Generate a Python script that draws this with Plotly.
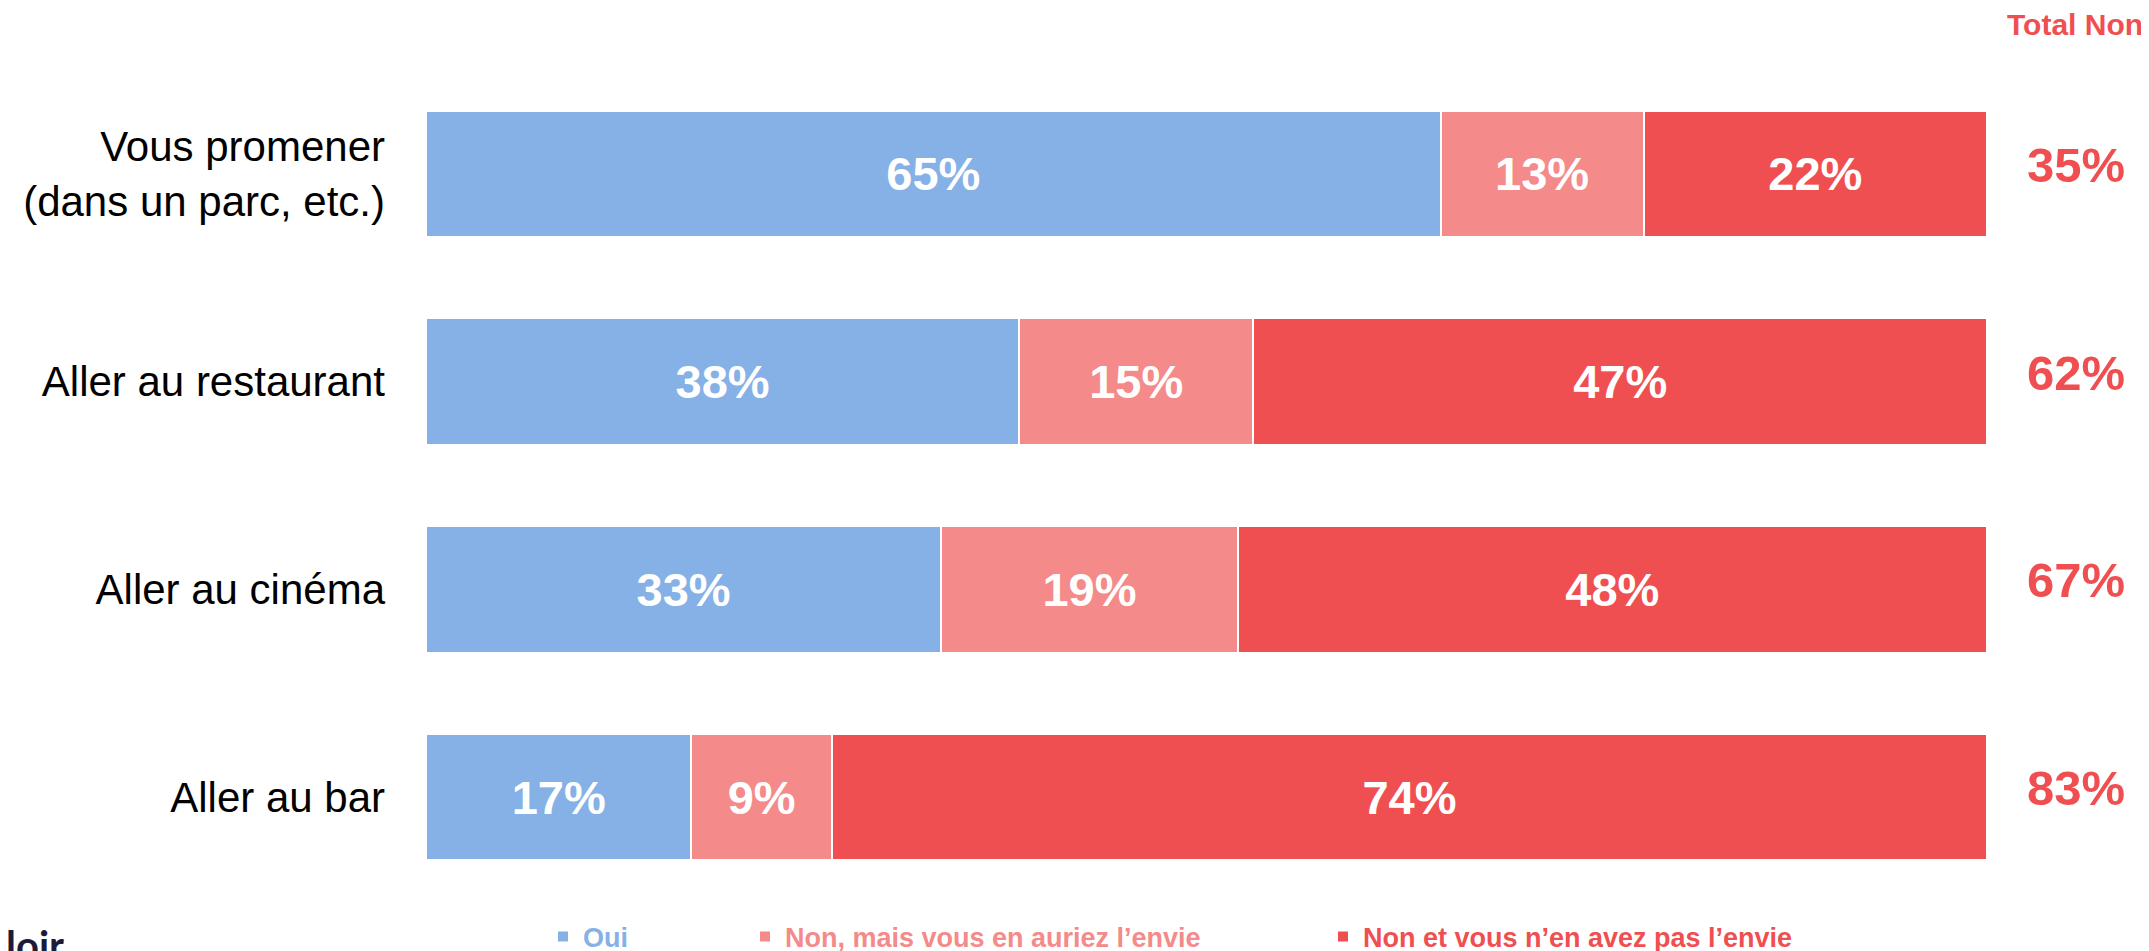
import plotly.graph_objects as go

categories = ["Vous promener<br>(dans un parc, etc.)", "Aller au restaurant", "Aller au cinéma", "Aller au bar"]
oui = [65, 38, 33, 17]
non_envie = [13, 15, 19, 9]
non_pas_envie = [22, 47, 48, 74]
total_non = [35, 62, 67, 83]
series_names = ["Oui", "Non, mais vous en auriez l’envie", "Non et vous n’en avez pas l’envie"]
colors = ["#86B1E7", "#F48A89", "#F04F51"]

W, H = 2149, 951
OFF = 8  # page body margin
L, R, T, B = 418, 170, 62, 58
pw, ph = W - L - R, H - T - B

def px(x):
    # x in page pixels -> paper coordinate
    return (x - OFF - L) / pw

def py(y):
    return (H - B - (y - OFF)) / ph

fig = go.Figure()
legend_x = [543, 745, 1323]
for i, (name, vals, col) in enumerate(zip(series_names, [oui, non_envie, non_pas_envie], colors)):
    lg = "legend" if i == 0 else f"legend{i+1}"
    fig.add_trace(go.Bar(
        y=categories, x=vals, name=name, orientation="h",
        marker=dict(color=col, line=dict(color="white", width=2)),
        text=[f"{v}%" for v in vals], textposition="inside", insidetextanchor="middle",
        textfont=dict(family="Liberation Sans, Arial", size=47, color="white", weight="bold"),
        hoverinfo="skip", legend=lg,
    ))

for cat, t in zip(categories, total_non):
    fig.add_annotation(x=px(2076), xref="paper", y=cat, yref="y", text=f"{t}%",
                       showarrow=False, xanchor="center", yanchor="middle", yshift=9,
                       font=dict(family="Liberation Sans, Arial", size=49, color="#F04F51", weight="bold"))

fig.add_annotation(x=px(2145), xref="paper", y=py(25), yref="paper", text="Total Non",
                   showarrow=False, xanchor="right", yanchor="middle",
                   font=dict(family="Liberation Sans, Arial", size=30, color="#F04F51", weight="bold"))

fig.add_annotation(x=px(4), xref="paper", y=py(919), yref="paper", text="loir",
                   showarrow=False, xanchor="left", yanchor="top",
                   font=dict(family="Lato, sans-serif", size=40, color="#1E1B3A", weight="bold"))

legend_common = dict(orientation="h", yanchor="middle", xanchor="left",
                     bgcolor="rgba(0,0,0,0)", borderwidth=0,
                     font=dict(family="Liberation Sans", size=27, weight="bold"))
lay_legends = {}
for i, (lx, col) in enumerate(zip(legend_x, colors)):
    key = "legend" if i == 0 else f"legend{i+1}"
    d = dict(legend_common)
    d["font"] = dict(legend_common["font"], color=col)
    d["x"] = px(lx)
    d["y"] = py(937)
    d["itemwidth"] = 30
    lay_legends[key] = d

fig.update_layout(
    width=W, height=H,
    margin=dict(l=L, r=R, t=T, b=B, autoexpand=False),
    barmode="stack", bargap=0.39,
    plot_bgcolor="white", paper_bgcolor="white",
    showlegend=True,
    xaxis=dict(range=[0, 100], visible=False, fixedrange=True, automargin=False),
    yaxis=dict(autorange="reversed", showgrid=False, zeroline=False, showline=False,
               ticks="", ticklabelstandoff=40, automargin=False,
               tickfont=dict(family="Liberation Sans, Arial", size=42, color="black")),
    **lay_legends,
)

fig.write_html("out.html")
